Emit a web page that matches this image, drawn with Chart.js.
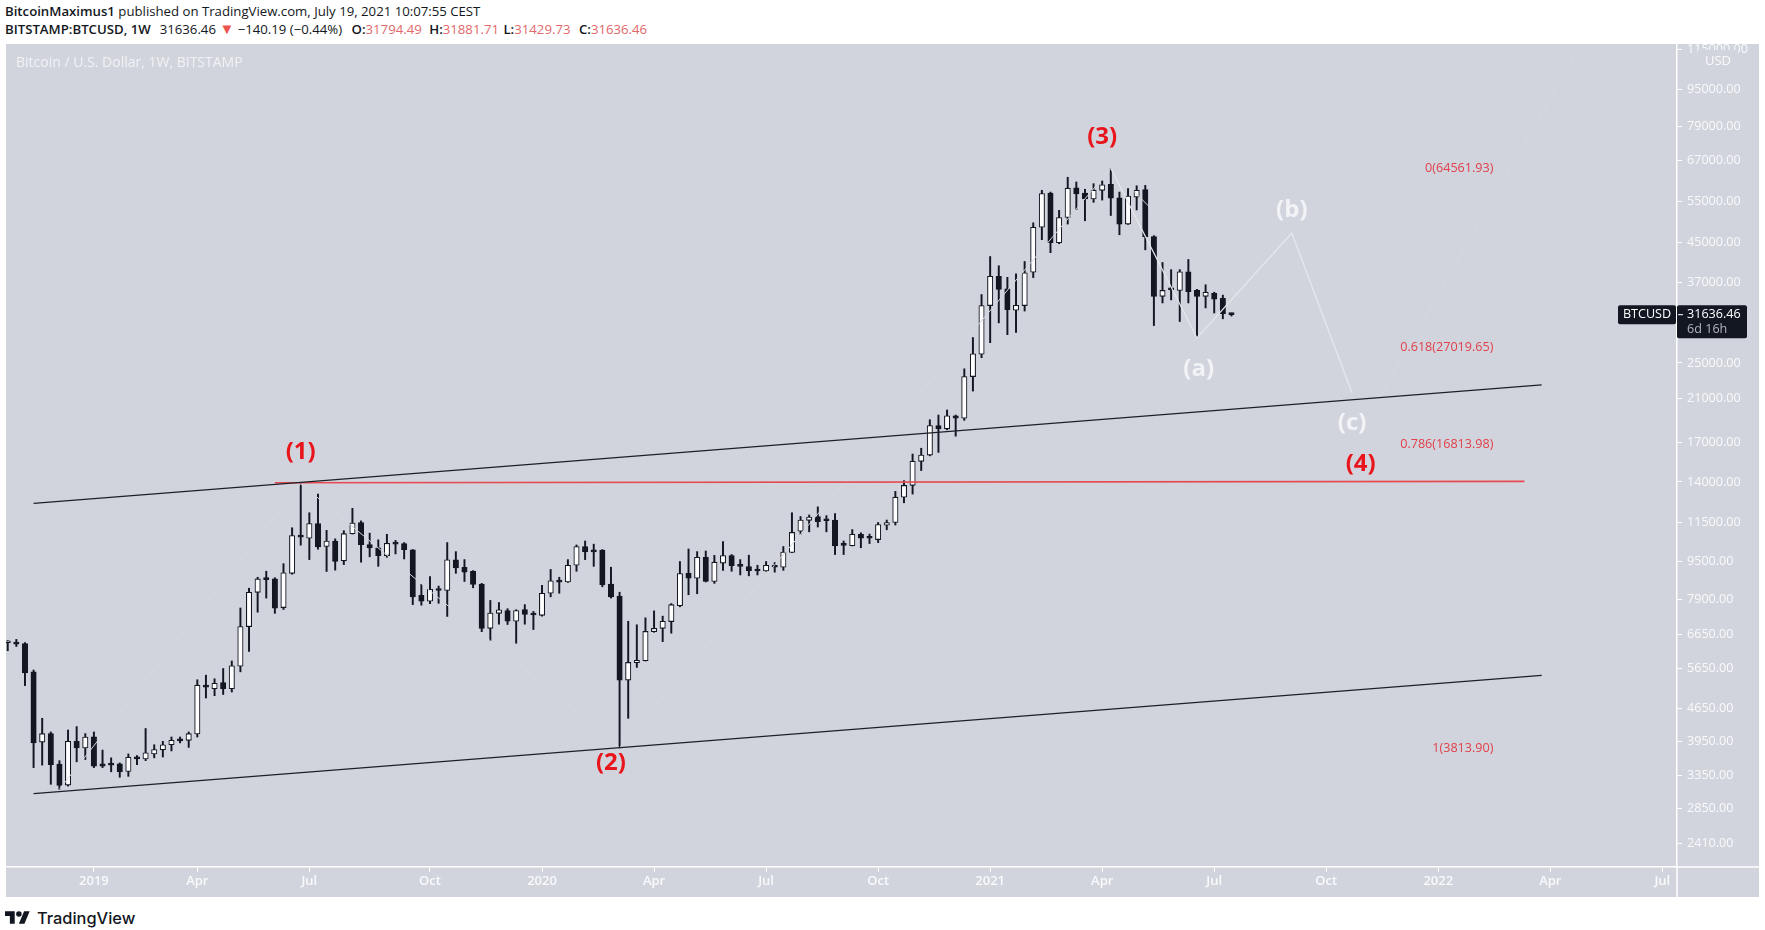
<!DOCTYPE html>
<html>
<head>
<meta charset="utf-8">
<title>BTCUSD 1W</title>
<script src="https://cdn.jsdelivr.net/npm/chart.js@4"></script>
<style>
  html, body { margin: 0; padding: 0; background: #fff; width: 1765px; height: 930px; overflow: hidden; }
  body { position: relative; font-family: "Open Sans", sans-serif; color: #131722; }
  .line { position: absolute; left: 5px; white-space: nowrap; font-size: 13.2px; line-height: 18px; }
  .line b { font-weight: 600; }
  .red { color: #e2686a; }
  .down { color: #ef5350; font-size: 15px; line-height: 15px; }
  #chartBox { position: absolute; left: 6px; top: 44px; }
  #btc { display: block; background: #d1d4dc; }
  #symbolTitle { position: absolute; left: 16px; top: 53px; font-size: 14px; line-height: 18px; color: rgba(255,255,255,.7); white-space: nowrap; }
  #logo { position: absolute; left: 5px; top: 911px; }
  #brand { position: absolute; left: 37px; top: 906px; font-family: Inter, sans-serif; font-weight: 500; font-size: 16.4px; line-height: 24px; color: #131722; }
</style>
</head>
<body>
<div class="line" style="top:2px"><b>BitcoinMaximus1</b> published on TradingView.com, July 19, 2021 10:07:55 CEST</div>
<div class="line" style="top:20px"><b>BITSTAMP:BTCUSD, 1W</b><span style="margin-left:9px">31636.46</span> <span class="down">▼</span> −140.19 (−0.44%) <b style="margin-left:6px">O:</b><span class="red">31794.49</span> <b style="margin-left:4px">H:</b><span class="red">31881.71</span> <b style="margin-left:1px">L:</b><span class="red">31429.73</span> <b style="margin-left:5px">C:</b><span class="red">31636.46</span></div>
<div id="chartBox"><canvas id="btc" width="1753" height="853"></canvas></div>
<div id="symbolTitle">Bitcoin / U.S. Dollar, 1W, BITSTAMP</div>
<svg id="logo" width="25" height="13" viewBox="0 4 36 18"><path fill="#131722" d="M14 22H7V11H0V4h14v18zM28 22h-8l7.5-18h8L28 22z"/><circle fill="#131722" cx="20" cy="8" r="4"/></svg>
<div id="brand">TradingView</div>

<script>
// -------------------------------
// DATA (weekly candles, week 0 = 29 Oct 2018)
// -------------------------------
const opens = [
  6395,6410,6370,5550,3940,4110,3540,3195,3955,3830,4045,3545,3545,3545,3415,3660,3630,3720,3795,3890,
  3975,3975,4100,5190,5110,5265,5110,5705,6920,8175,8715,8730,7590,8970,10800,10640,11430,10220,10500,9530,
  10880,11490,10320,10160,9780,10370,10370,10060,8060,7830,8270,8250,9580,9240,9060,8510,6860,7380,7480,7100,
  7520,7340,7310,8140,8620,8600,9330,10220,9980,10040,8510,8030,5330,5800,5860,6750,6860,7090,7660,8970,
  8760,9700,8620,9430,9780,9300,9270,9100,9070,9330,9240,9930,11010,11610,11820,11610,11630,10300,10260,10850,
  10660,10570,11340,11490,13000,13770,15480,15960,18430,18140,19330,19100,23400,26100,33070,38150,35900,32340,33070,38900,
  48450,57200,44930,50800,58700,57200,55600,58000,59700,55900,49200,56100,58200,46300,34600,35800,35600,39000,35600,34600,
  35100,34250,31794.49
];
const highs = [
  6460,6500,6400,5600,4425,4140,3600,4180,4250,4107,4140,3790,3650,3560,3720,3690,4210,3890,3955,4040,
  4040,4140,5340,5460,5365,5640,5850,7575,8340,8800,9060,8780,9400,11200,13880,12050,13200,11060,10610,11040,
  12310,11580,10910,10560,10850,10530,10420,10070,8500,8830,8430,10420,9970,9590,9090,8540,7860,7780,7550,7510,
  7700,7450,8460,9140,8800,9590,10300,10500,10340,10070,9240,8180,7100,6980,7220,7470,7280,7740,9500,10100,
  9970,10000,9790,10470,9830,9590,9800,9330,9500,9450,10220,12050,11830,11920,12400,11880,12000,10500,11100,10930,
  10860,11490,11630,13370,14090,16040,16500,18960,19400,19880,19400,24300,28300,34900,42000,40150,37950,38600,41000,49500,
  58000,57500,52600,61800,60400,58300,59900,60700,64561.93,57500,58500,59300,59400,46500,40800,39400,39400,41400,35800,36600,
  35300,34800,31881.71
];
const lows = [
  6150,6280,5190,3480,3522,3208,3130,3180,3580,3620,3480,3480,3410,3320,3335,3530,3600,3650,3665,3775,
  3925,3840,4040,4885,4940,4970,5030,5550,6130,7420,7950,7380,7520,8930,10290,9590,10090,9050,9110,9360,
  10860,9470,9720,9280,9700,9860,9620,7700,7680,7740,7750,7270,8970,8620,8360,6750,6460,7000,6990,6380,
  7000,6820,7280,8000,8140,8580,9060,9590,9280,8400,7950,3830,4425,5670,5850,6730,6430,6700,7620,8080,
  8120,8600,8540,9100,9060,8900,8860,8900,9060,9020,9100,9920,10850,10980,11240,10980,9830,9830,10250,10160,
  10370,10420,11090,11350,12650,13200,14800,15900,16170,18050,17500,18900,21800,25650,27600,30400,28700,29000,32200,37900,
  45600,42800,44700,49200,52800,50000,54700,55300,51300,46700,49100,52700,43400,30000,33500,34000,30600,33500,28400,32700,
  31900,31000,31429.73
];
const closes = [
  6400,6350,5520,3925,4107,3530,3190,3955,3830,4040,3505,3505,3522,3410,3660,3630,3740,3800,3890,3975,
  3965,4107,5200,5150,5250,5110,5715,6920,8180,8730,8700,7570,8995,10780,10700,11430,10200,10500,9510,10880,
  11460,10320,10150,9780,10380,10340,10060,8000,7830,8300,8250,9580,9210,9020,8500,6860,7390,7510,7100,7480,
  7340,7320,8140,8650,8590,9330,10220,9950,9960,8490,8000,5330,5810,5870,6760,6860,7100,7700,8960,8760,
  9700,8620,9470,9780,9310,9280,9090,9070,9330,9240,9950,10950,11630,11800,11540,11590,10250,10280,10850,10650,
  10640,11380,11490,13000,13770,15480,15960,18430,18140,19330,19100,23400,26150,33070,38150,35800,32400,33120,38800,48450,
  57100,44930,50800,58600,57000,55600,58000,59600,55800,49200,56400,58000,46200,34600,35600,35700,39000,35400,34600,35300,
  34100,31794.49,31636.46
];

const yTicks = [115000,95000,79000,67000,55000,45000,37000,25000,21000,17000,14000,11500,9500,7900,6650,5650,4650,3950,3350,2850,2410];
const xTickWeeks = [10,22,35,49,62,75,88,101,114,127,140,153,166,179,192];
const xTickLabels = ["2019","Apr","Jul","Oct","2020","Apr","Jul","Oct","2021","Apr","Jul","Oct","2022","Apr","Jul"];

// drawn lines: [week, price] pairs
const channelTop = [[3,12617],[178,22460]];
const channelBottom = [[3,3065],[178,5457]];
const redLine = [[31,13950],[176,14040]];
const waveWhite = [[128,64561.93],[138,28240],[149,47100],[156,21600]];
const waveFaint = [[6,3130],[34,13880],[71,3830],[128,64561.93],[157.5,18750],[182.6,118300]];

const fibLabels = ["0(64561.93)","0.618(27019.65)","0.786(16813.98)","1(3813.90)"];
const fibPrices = [64561.93,27019.65,16813.98,3813.90];
const waveLabels = [
  ["(1)",34,16200,"#e8161c"],["(2)",70,3560,"#e8161c"],["(3)",127,75100,"#e8161c"],["(4)",157,15240,"#e8161c"],
  ["(a)",138.2,24280,"#f2f3f6"],["(b)",149,52700,"#f2f3f6"],["(c)",156,18660,"#f2f3f6"]
];
const lastPrice = 31636.46;

// -------------------------------
// HELPERS
// -------------------------------
const ink = "#131722";
const font = '"Open Sans", sans-serif';

function toPoints(pairs) {
  return pairs.map(p => ({ x: p[0], y: p[1] }));
}

function lineSet(pairs, color, width) {
  return {
    type: "line",
    data: toPoints(pairs),
    borderColor: color,
    borderWidth: width,
    pointRadius: 0,
    tension: 0,
    order: 0,
  };
}

// -------------------------------
// OVERLAY TEXT + AXIS EXTRAS
// -------------------------------
const overlay = {
  id: "overlay",
  afterDraw(chart) {
    const ctx = chart.ctx;
    const xs = chart.scales.x;
    const ys = chart.scales.y;
    const area = chart.chartArea;
    ctx.save();

    // axis lines running on into the corner
    ctx.strokeStyle = "#fff";
    ctx.lineWidth = 1.5;
    ctx.beginPath();
    ctx.moveTo(area.right, area.bottom);
    ctx.lineTo(area.right, chart.height);
    ctx.moveTo(area.right, area.bottom);
    ctx.lineTo(chart.width, area.bottom);
    ctx.stroke();

    // USD tag sits over the top tick
    ctx.fillStyle = "#d1d4dc";
    ctx.fillRect(area.right + 21, 6, 40, 21);
    ctx.fillStyle = "rgba(255,255,255,.88)";
    ctx.font = "13px " + font;
    ctx.textAlign = "center";
    ctx.textBaseline = "middle";
    ctx.fillText("USD", area.right + 41, 17);

    // fib levels
    ctx.font = "12.6px " + font;
    ctx.textAlign = "right";
    ctx.fillStyle = "#e2404a";
    fibLabels.forEach((t, i) => {
      ctx.fillText(t, xs.getPixelForValue(172.4), ys.getPixelForValue(fibPrices[i]));
    });

    // wave counts
    ctx.textAlign = "center";
    waveLabels.forEach(w => {
      ctx.font = "700 24px " + font;
      ctx.fillStyle = w[3];
      ctx.fillText(w[0], xs.getPixelForValue(w[1]), ys.getPixelForValue(w[2]));
    });

    // last price tags
    const y = ys.getPixelForValue(lastPrice);
    ctx.fillStyle = ink;
    ctx.beginPath();
    ctx.roundRect(area.right - 59, y - 9.5, 58, 19, 2);
    ctx.fill();
    ctx.beginPath();
    ctx.roundRect(area.right, y - 9.5, 70, 33, 2);
    ctx.fill();
    ctx.strokeStyle = "#fff";
    ctx.lineWidth = 1;
    ctx.beginPath();
    ctx.moveTo(area.right + 1, y);
    ctx.lineTo(area.right + 6, y);
    ctx.stroke();
    ctx.font = "12.6px " + font;
    ctx.fillStyle = "#fff";
    ctx.textAlign = "center";
    ctx.fillText("BTCUSD", area.right - 30, y);
    ctx.textAlign = "left";
    ctx.fillText(lastPrice.toFixed(2), area.right + 10, y);
    ctx.fillStyle = "#b2b5be";
    ctx.fillText("6d 16h", area.right + 10, y + 15);
    ctx.restore();
  },
};

// -------------------------------
// CHART
// -------------------------------
const weeks = opens.map((_, i) => i);
const bodyColors = weeks.map(i => (closes[i] < opens[i] ? ink : "#ffffff"));

new Chart(document.getElementById("btc").getContext("2d"), {
  type: "bar",
  data: {
    datasets: [
      {
        data: weeks.map(i => ({ x: i, y: [lows[i], highs[i]] })),
        backgroundColor: ink,
        barThickness: 1.3,
        grouped: false,
        order: 2,
      },
      {
        data: weeks.map(i => ({ x: i, y: [opens[i], closes[i]] })),
        backgroundColor: bodyColors,
        borderColor: ink,
        borderWidth: 1.1,
        borderSkipped: false,
        barThickness: 5.4,
        minBarLength: 2,
        grouped: false,
        order: 1,
      },
      // lower index paints on top, so the faint trace goes last
      lineSet(channelTop, "#1d2029", 1.3),
      lineSet(channelBottom, "#1d2029", 1.3),
      lineSet(redLine, "#e64a50", 1.6),
      lineSet(waveWhite, "#e6e7ec", 1.3),
      lineSet(waveFaint, "#d6d8df", 1),
    ],
  },
  options: {
    responsive: false,
    animation: false,
    devicePixelRatio: 1,
    layout: { padding: 0 },
    plugins: { legend: { display: false }, tooltip: { enabled: false } },
    scales: {
      x: {
        type: "linear",
        offset: false,
        min: -0.2,
        max: 193.7,
        afterBuildTicks: s => { s.ticks = xTickWeeks.map(v => ({ value: v })); },
        afterFit: s => { s.height = 30; s.paddingLeft = 0; s.paddingRight = 0; },
        grid: { offset: false, drawOnChartArea: false, color: "#fff", tickLength: 5, lineWidth: 1 },
        border: { color: "#fff", width: 1.5 },
        ticks: {
          color: "rgba(255,255,255,.88)",
          font: { family: font, size: 13, weight: "600" },
          padding: 1,
          maxRotation: 0,
          autoSkip: false,
          callback: v => xTickLabels[xTickWeeks.indexOf(v)],
        },
      },
      y: {
        type: "logarithmic",
        position: "right",
        min: 2144,
        max: 118320,
        afterBuildTicks: s => { s.ticks = yTicks.map(v => ({ value: v })); },
        afterFit: s => { s.width = 82; s.paddingTop = 0; s.paddingBottom = 0; },
        grid: { drawOnChartArea: false, color: "#fff", tickLength: 5, lineWidth: 1 },
        border: { color: "#fff", width: 1.5 },
        ticks: {
          color: "rgba(255,255,255,.88)",
          font: { family: font, size: 12.6 },
          padding: 5,
          crossAlign: "near",
          autoSkip: false,
          callback: v => Number(v).toFixed(2),
        },
      },
    },
  },
  plugins: [overlay],
});
</script>
</body>
</html>
